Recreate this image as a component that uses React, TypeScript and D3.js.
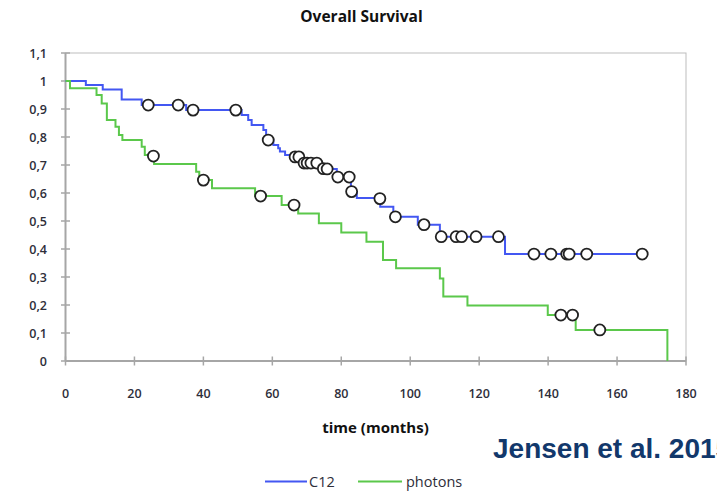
import React from 'react';
import * as d3 from 'd3';

const yTicks = [0, 0.1, 0.2, 0.3, 0.4, 0.5, 0.6, 0.7, 0.8, 0.9, 1, 1.1];
const yTickLabels = ['0', '0,1', '0,2', '0,3', '0,4', '0,5', '0,6', '0,7', '0,8', '0,9', '1', '1,1'];
const xTicks = [0, 20, 40, 60, 80, 100, 120, 140, 160, 180];

const seriesNames = ['C12', 'photons'];

// Kaplan-Meier steps: [time, survival from that time on]
const c12Steps: [number, number][] = [
  [0, 1], [5.9, 0.986], [10.8, 0.97], [16.3, 0.934], [22.1, 0.914], [35, 0.896],
  [51.1, 0.879], [53, 0.861], [54, 0.843], [57.4, 0.825], [58.2, 0.789], [60.3, 0.771],
  [61.7, 0.76], [62.2, 0.748], [63.7, 0.736], [65.5, 0.729], [68.5, 0.707], [73.8, 0.686],
  [78.7, 0.657], [82.8, 0.604], [84.5, 0.582], [91.3, 0.551], [95.1, 0.515], [102.2, 0.487],
  [108.6, 0.444], [127.5, 0.382], [167.3, 0.382],
];
const photonSteps: [number, number][] = [
  [0, 1], [1.3, 0.974], [9, 0.95], [10.5, 0.92], [12, 0.861], [14.5, 0.837], [15.5, 0.807],
  [16.5, 0.789], [22.1, 0.765], [23, 0.736], [25.7, 0.704], [37.9, 0.676], [38.8, 0.646],
  [42.5, 0.617], [55, 0.589], [62.7, 0.557], [67.5, 0.527], [73.5, 0.492], [80, 0.459],
  [87.3, 0.426], [92.1, 0.361], [95.9, 0.331], [108.6, 0.295], [109.6, 0.23], [116.6, 0.198],
  [139.9, 0.164], [148, 0.111], [174.6, 0],
];

// Censored observations
const c12Censored: [number, number][] = [
  [24, 0.914], [32.7, 0.914], [37, 0.896], [49.4, 0.896], [58.8, 0.789], [66.6, 0.729],
  [67.7, 0.729], [69.2, 0.707], [70.1, 0.707], [71.2, 0.707], [72.9, 0.707], [74.8, 0.687],
  [75.9, 0.686], [79, 0.657], [82.3, 0.657], [83, 0.605], [91.2, 0.58], [95.7, 0.515],
  [104, 0.487], [109, 0.444], [113.3, 0.444], [114.9, 0.444], [119.1, 0.444], [125.6, 0.444],
  [135.9, 0.382], [140.8, 0.382], [145.4, 0.382], [146.1, 0.382], [151.2, 0.382], [167.3, 0.382],
];
const photonCensored: [number, number][] = [
  [25.5, 0.732], [40, 0.646], [56.6, 0.589], [66.3, 0.557], [143.7, 0.164], [147.1, 0.164], [155, 0.111],
];

const W = 717;
const H = 491;
const FONT = '"Open Sans", Lato, sans-serif';

export default function App() {
  const x = d3.scaleLinear().domain([0, 180]).range([65.5, 686]);
  const y = d3.scaleLinear().domain([0, 1.1]).range([361, 53]);
  const line = d3
    .line<[number, number]>()
    .x((d) => x(d[0]))
    .y((d) => y(d[1]))
    .curve(d3.curveStepAfter);

  const blue = '#4357F2';
  const green = '#5BC84B';
  const axisColor = '#A6A6A6';
  const textColor = '#2E2E3A';

  return (
    <div style={{ position: 'absolute', left: 0, top: 0, width: W, height: H, overflow: 'hidden', background: '#fff' }}>
      <svg width={W} height={H} style={{ display: 'block' }}>
        <rect x={0} y={0} width={W} height={H} fill="#fff" />
        <text x={361.5} y={21.5} textAnchor="middle" fontFamily={FONT} fontWeight={700} fontSize={15.5} fill="#111">
          Overall Survival
        </text>

        {/* plot frame */}
        <rect x={x(0)} y={y(1.1)} width={x(180) - x(0)} height={y(0) - y(1.1)} fill="none" stroke="#BDBDBD" strokeWidth={1} />

        {/* y axis */}
        <line x1={x(0)} x2={x(0)} y1={y(1.1)} y2={y(0)} stroke={axisColor} strokeWidth={2} />
        {yTicks.map((t, i) => (
          <g key={'y' + i}>
            <line x1={x(0) - 4.5} x2={x(0) + 4.5} y1={y(t)} y2={y(t)} stroke={axisColor} strokeWidth={1.5} />
            <text x={47} y={y(t) + 4.5} textAnchor="end" fontFamily={FONT} fontSize={12.5} fontWeight={600} fill={textColor}>
              {yTickLabels[i]}
            </text>
          </g>
        ))}

        {/* x axis */}
        <line x1={x(0)} x2={x(180)} y1={y(0)} y2={y(0)} stroke={axisColor} strokeWidth={2} />
        {xTicks.map((t, i) => (
          <g key={'x' + i}>
            <line x1={x(t)} x2={x(t)} y1={y(0) - 4.5} y2={y(0) + 4.5} stroke={axisColor} strokeWidth={1.5} />
            <text x={x(t)} y={397.5} textAnchor="middle" fontFamily={FONT} fontSize={12.5} fontWeight={600} fill={textColor}>
              {t}
            </text>
          </g>
        ))}
        <text x={375.5} y={433} textAnchor="middle" fontFamily={FONT} fontSize={15} fontWeight={700} fill="#111">
          time (months)
        </text>

        {/* curves */}
        <path d={line(c12Steps) || ''} fill="none" stroke={blue} strokeWidth={2} />
        <path d={line(photonSteps) || ''} fill="none" stroke={green} strokeWidth={2} />

        {c12Censored.map((d, i) => (
          <circle key={'cb' + i} cx={x(d[0])} cy={y(d[1])} r={5.5} fill="#fff" stroke="#222" strokeWidth={1.8} />
        ))}
        {photonCensored.map((d, i) => (
          <circle key={'cg' + i} cx={x(d[0])} cy={y(d[1])} r={5.5} fill="#fff" stroke="#222" strokeWidth={1.8} />
        ))}

        {/* citation (cut at the right edge, as in the reference) */}
        <text x={493} y={457.5} fontFamily='"Liberation Sans", Arial, sans-serif' fontWeight={700} fontSize={28} fill="#12386B">
          Jensen et al. 2015
        </text>

        {/* legend */}
        <line x1={265} x2={307} y1={481.5} y2={481.5} stroke={blue} strokeWidth={2} />
        <text x={309} y={486.5} fontFamily={FONT} fontSize={14.5} fill={textColor}>
          {seriesNames[0]}
        </text>
        <line x1={358} x2={402} y1={481.5} y2={481.5} stroke={green} strokeWidth={2} />
        <text x={406} y={486.5} fontFamily={FONT} fontSize={14.5} fill={textColor}>
          {seriesNames[1]}
        </text>
      </svg>
    </div>
  );
}
